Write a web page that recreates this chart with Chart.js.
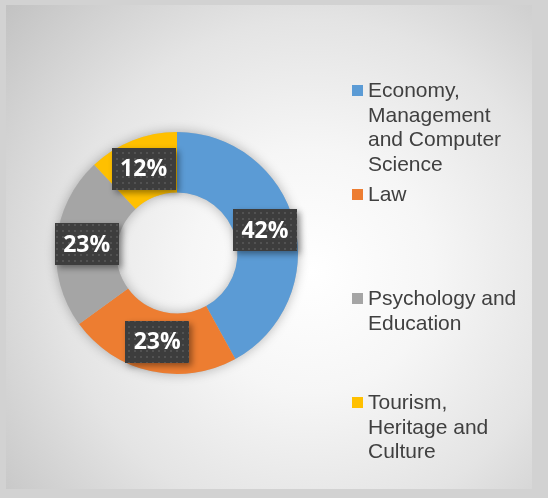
<!DOCTYPE html>
<html>
<head>
<meta charset="utf-8">
<script src="https://cdn.jsdelivr.net/npm/chart.js@4"></script>
<style>
    body { margin: 0; width: 548px; height: 498px; background: #d2d2d2; overflow: hidden; }
    #panel {
        position: absolute; left: 6px; top: 5px; width: 526px; height: 484px;
        background: radial-gradient(circle at 58% 55%, #ffffff 0%, #f6f6f6 30%, #e4e4e4 62%, #c2c2c2 100%);
    }
    #chart { position: absolute; left: 0; top: 0; }
    #legend { position: absolute; left: 352px; top: 0; }
    .item { position: absolute; left: 0; width: 180px; }
    .box { position: absolute; left: 0; top: 7px; width: 11px; height: 11px; }
    .txt {
        position: absolute; left: 16px; width: 157px;
        font-family: "Liberation Sans", Arial, sans-serif; font-size: 21px;
        line-height: 24.5px; color: #404040;
    }
</style>
</head>
<body>
<div id="panel"></div>
<canvas id="chart" width="548" height="498"></canvas>
<div id="legend"></div>
<script>
// Datos del gráfico
const categories = ["Economy, Management and Computer Science", "Law", "Psychology and Education", "Tourism, Heritage and Culture"];
const values = [42, 23, 23, 12];
const colors = ["#5B9BD5", "#ED7D31", "#A5A5A5", "#FFC000"];

// Leyenda en HTML (los elementos se reparten a lo alto)
function buildLegend() {
    const legend = document.getElementById("legend");
    categories.forEach((name, i) => {
        const item = document.createElement("div");
        item.className = "item";
        item.style.top = (78 + i * 104) + "px";

        const box = document.createElement("div");
        box.className = "box";
        box.style.background = colors[i];
        item.appendChild(box);

        const txt = document.createElement("div");
        txt.className = "txt";
        txt.textContent = name;
        item.appendChild(txt);

        legend.appendChild(item);
    });
}

// Textura de puntos para las etiquetas
function makePattern(ctx) {
    const c = document.createElement("canvas");
    c.width = 6; c.height = 6;
    const p = c.getContext("2d");
    p.fillStyle = "#3d3d3d";
    p.fillRect(0, 0, 6, 6);
    p.fillStyle = "#525252";
    p.fillRect(2, 2, 2, 2);
    return ctx.createPattern(c, "repeat");
}

// Sombra suave debajo del anillo
const ringShadow = {
    id: "ringShadow",
    beforeDatasetsDraw(chart) {
        const arc = chart.getDatasetMeta(0).data[0];
        if (!arc) return;
        const ctx = chart.ctx;
        ctx.save();
        ctx.shadowColor = "rgba(0,0,0,0.28)";
        ctx.shadowBlur = 12;
        ctx.fillStyle = "#bbbbbb";
        ctx.beginPath();
        ctx.arc(arc.x, arc.y, arc.outerRadius, 0, Math.PI * 2);
        ctx.arc(arc.x, arc.y, arc.innerRadius, 0, Math.PI * 2, true);
        ctx.fill();
        ctx.restore();
    }
};

// Etiquetas de porcentaje en cajas oscuras
const boxLabels = {
    id: "boxLabels",
    afterDatasetsDraw(chart) {
        const ctx = chart.ctx;
        const pattern = makePattern(ctx);
        const total = values.reduce((a, b) => a + b, 0);
        chart.getDatasetMeta(0).data.forEach((arc, i) => {
            const pos = arc.tooltipPosition();
            const w = 64, h = 42;
            ctx.save();
            ctx.shadowColor = "rgba(0,0,0,0.4)";
            ctx.shadowBlur = 6;
            ctx.shadowOffsetX = 3;
            ctx.shadowOffsetY = 3;
            ctx.fillStyle = pattern;
            ctx.fillRect(Math.round(pos.x - w / 2), Math.round(pos.y - h / 2), w, h);
            ctx.restore();

            ctx.save();
            ctx.fillStyle = "#ffffff";
            ctx.font = "bold 23px 'Open Sans', Lato, sans-serif";
            ctx.textAlign = "center";
            ctx.textBaseline = "middle";
            ctx.fillText(Math.round(values[i] / total * 100) + "%", pos.x, pos.y + 1);
            ctx.restore();
        });
    }
};

let chart;

function drawChart() {
    const ctx = document.getElementById("chart").getContext("2d");
    chart = new Chart(ctx, {
        type: "doughnut",
        data: {
            labels: categories,
            datasets: [{
                data: values,
                backgroundColor: colors,
                borderWidth: 0
            }]
        },
        options: {
            responsive: false,
            animation: false,
            cutout: "50%",
            layout: { padding: { left: 56, right: 250, top: 132, bottom: 124 } },
            plugins: {
                legend: { display: false },
                tooltip: { enabled: false }
            }
        },
        plugins: [ringShadow, boxLabels]
    });
}

window.onload = () => {
    buildLegend();
    drawChart();
};
</script>
</body>
</html>
